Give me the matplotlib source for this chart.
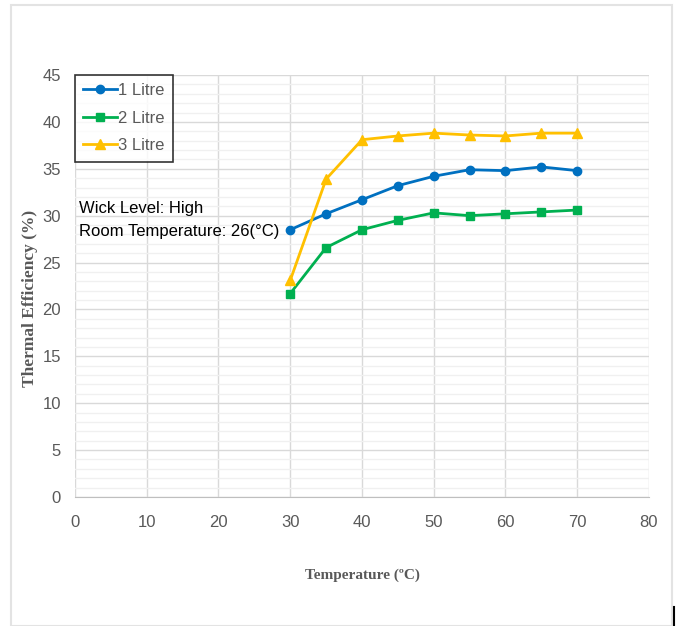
import matplotlib.pyplot as plt
from matplotlib import font_manager
from matplotlib.lines import Line2D
from matplotlib.patches import Rectangle

temps = [30, 35, 40, 45, 50, 55, 60, 65, 70]
eff_1l = [28.5, 30.2, 31.7, 33.2, 34.2, 34.9, 34.8, 35.2, 34.8]
eff_2l = [21.7, 26.6, 28.5, 29.5, 30.3, 30.0, 30.2, 30.4, 30.6]
eff_3l = [23.1, 33.9, 38.1, 38.5, 38.8, 38.6, 38.5, 38.8, 38.8]
labels = ['1 Litre', '2 Litre', '3 Litre']

names = {f.name for f in font_manager.fontManager.ttflist}
narrow = 'Liberation Sans Narrow' if 'Liberation Sans Narrow' in names else 'Liberation Sans'

fig = plt.figure(figsize=(6.78, 6.26), dpi=100)
ax = fig.add_axes([75 / 678, 1 - 497 / 626, 574 / 678, 422 / 626])

# outer frame
fig.add_artist(Rectangle((11 / 678, 0), 661 / 678, 1 - 5 / 626, transform=fig.transFigure,
                         fill=False, edgecolor='#e3e3e3', linewidth=1.5))
fig.add_artist(Line2D([674 / 678, 674 / 678], [0, 19 / 626], transform=fig.transFigure,
                      color='black', linewidth=1.5))

ax.plot(temps, eff_1l, color='#0070C0', marker='o', markersize=6, linewidth=2, label=labels[0])
ax.plot(temps, eff_2l, color='#00B050', marker='s', markersize=6, linewidth=2, label=labels[1])
ax.plot(temps, eff_3l, color='#FFC000', marker='^', markersize=7, linewidth=2, label=labels[2])

ax.set_xlim(0, 80)
ax.set_ylim(0, 45)
ax.set_xticks(range(0, 81, 10))
ax.set_yticks(range(0, 46, 5))
ax.set_yticks(range(0, 46, 1), minor=True)
ax.grid(which='major', color='#d9d9d9', linewidth=1)
ax.grid(which='minor', axis='y', color='#f0f0f0', linewidth=1)
ax.set_axisbelow(True)
for s in ['top', 'right', 'left']:
    ax.spines[s].set_visible(False)
ax.spines['bottom'].set_color('#bfbfbf')
ax.tick_params(which='both', length=0, colors='#595959', labelsize=12)
ax.tick_params(axis='x', pad=13)
ax.tick_params(axis='y', pad=10)
for t in ax.get_xticklabels() + ax.get_yticklabels():
    t.set_fontfamily(narrow)

ax.set_xlabel('Temperature (ºC)', family='Liberation Serif', fontweight='bold',
              fontsize=11, color='#595959', labelpad=28)
ax.set_ylabel('Thermal Efficiency (%)', family='Liberation Serif', fontweight='bold',
              fontsize=12.5, color='#595959')
ax.yaxis.set_label_coords(-0.064, 0.47)

leg = ax.legend(loc='upper left', bbox_to_anchor=(0, 1), frameon=True, fancybox=False,
                prop={'family': narrow, 'size': 12}, handlelength=2.0, borderpad=0.5,
                labelspacing=0.75, handletextpad=0.1, borderaxespad=0)
leg.get_frame().set_edgecolor('black')
leg.get_frame().set_linewidth(1.2)
for t in leg.get_texts():
    t.set_color('#595959')

ax.text(0.6, 30.8, 'Wick Level: High', family=narrow, fontsize=12, color='black', va='center')
ax.text(0.6, 28.3, 'Room Temperature: 26(°C)', family=narrow, fontsize=12, color='black', va='center')

fig.savefig('out.png', dpi=100)
